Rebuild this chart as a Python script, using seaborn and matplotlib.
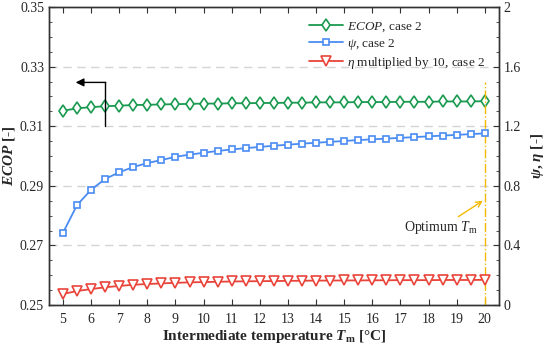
import numpy as np
import matplotlib
matplotlib.use("Agg")
import matplotlib.pyplot as plt
import seaborn as sns
from matplotlib.ticker import MultipleLocator

# data (T_m step 0.5 degC)
t_m = [5.0, 5.5, 6.0, 6.5, 7.0, 7.5, 8.0, 8.5, 9.0, 9.5, 10.0, 10.5, 11.0, 11.5, 12.0,
       12.5, 13.0, 13.5, 14.0, 14.5, 15.0, 15.5, 16.0, 16.5, 17.0, 17.5, 18.0, 18.5,
       19.0, 19.5, 20.0]
ecop = [0.3152, 0.3160, 0.3164, 0.3167, 0.3169, 0.3171, 0.3172, 0.3173, 0.3174, 0.3175,
        0.3176, 0.3176, 0.3177, 0.3177, 0.3178, 0.3178, 0.3179, 0.3179, 0.3180, 0.3180,
        0.3180, 0.3181, 0.3181, 0.3181, 0.3182, 0.3182, 0.3182, 0.3183, 0.3183, 0.3183,
        0.3184]
psi = [0.485, 0.671, 0.774, 0.846, 0.891, 0.926, 0.953, 0.973, 0.995, 1.009,
       1.022, 1.034, 1.044, 1.053, 1.061, 1.069, 1.076, 1.083, 1.089, 1.095,
       1.101, 1.107, 1.112, 1.117, 1.122, 1.127, 1.132, 1.137, 1.142, 1.147,
       1.152]
eta10 = [0.074, 0.094, 0.107, 0.119, 0.128, 0.136, 0.141, 0.145, 0.149, 0.152,
         0.154, 0.156, 0.158, 0.159, 0.160, 0.161, 0.162, 0.163, 0.164, 0.164,
         0.165, 0.165, 0.166, 0.166, 0.167, 0.167, 0.167, 0.168, 0.168, 0.168,
         0.169]

left_ticks = [0.25, 0.27, 0.29, 0.31, 0.33, 0.35]
right_ticks = [0, 0.4, 0.8, 1.2, 1.6, 2]
right_labels = ["0", "0.4", "0.8", "1.2", "1.6", "2"]
t_opt = 20.0

GREEN = "#1a9a50"
BLUE = "#4a8cf2"
RED = "#e8443a"
GOLD = "#f5b800"
SPINE = "#333333"

sns.set_style("ticks")
plt.rcParams["font.family"] = ["Liberation Serif", "DejaVu Serif"]
plt.rcParams["mathtext.fontset"] = "custom"
plt.rcParams["mathtext.rm"] = "Liberation Serif"
plt.rcParams["mathtext.it"] = "Liberation Serif:italic"
plt.rcParams["mathtext.bf"] = "Liberation Serif:bold"
plt.rcParams["mathtext.bfit"] = "Liberation Serif:italic:bold"

fig = plt.figure(figsize=(5.5, 3.51), dpi=100)
ax = fig.add_axes([0.089, 0.131, 0.818, 0.849])
ax2 = ax.twinx()

sns.lineplot(x=t_m, y=ecop, ax=ax, color=GREEN, marker="d", markersize=6.5,
             markerfacecolor="white", markeredgecolor=GREEN, markeredgewidth=1.2,
             linewidth=1.3, label="$ECOP$, case 2", legend=False)
sns.lineplot(x=t_m, y=psi, ax=ax2, color=BLUE, marker="s", markersize=4.8,
             markerfacecolor="white", markeredgecolor=BLUE, markeredgewidth=1.2,
             linewidth=1.3, label=r"$\psi$, case 2", legend=False)
sns.lineplot(x=t_m, y=eta10, ax=ax2, color=RED, marker="v", markersize=6.5,
             markerfacecolor="white", markeredgecolor=RED, markeredgewidth=1.2,
             linewidth=1.3, label=r"$\eta$ multiplied by 10, case 2", legend=False)

ax.set_xlim(4.5, 20.5)
ax.set_ylim(0.25, 0.35)
ax2.set_ylim(0, 2)
ax.set_xticks(range(5, 21))
ax.set_yticks(left_ticks)
ax.set_yticklabels([f"{v:.2f}" for v in left_ticks])
ax.yaxis.set_minor_locator(MultipleLocator(0.005))
ax2.set_yticks(right_ticks)
ax2.set_yticklabels(right_labels)
ax2.yaxis.set_minor_locator(MultipleLocator(0.1))

for yv in left_ticks[1:-1]:
    ax.axhline(yv, color="#d4d4d4", lw=1, ls=(0, (6, 4)), zorder=0)

ax.tick_params(axis="x", which="both", direction="in", top=True, length=4,
               labelsize=10, pad=6, color=SPINE)
ax.tick_params(axis="y", which="major", direction="in", length=4, labelsize=10,
               color=SPINE)
ax.tick_params(axis="y", which="minor", direction="in", length=2, color=SPINE)
ax2.tick_params(axis="y", which="major", direction="in", length=4, labelsize=10,
                color=SPINE)
ax2.tick_params(axis="y", which="minor", direction="in", length=2, color=SPINE)
for a in (ax, ax2):
    for s in a.spines.values():
        s.set_color(SPINE)
        s.set_linewidth(1.0)

ax.set_xlabel(r"Intermediate temperature $\mathbfit{T}_{\mathbf{m}}$ [°C]",
              fontsize=11, fontweight="bold", labelpad=1)
ax.set_ylabel(r"$\mathbfit{ECOP}$ [-]", fontsize=11, fontweight="bold", labelpad=2)
ax2.set_ylabel(r"$\mathbfit{\psi}$, $\mathbfit{\eta}$ [-]", fontsize=11,
               fontweight="bold", labelpad=6)

# arrow pointing to left axis
ax.plot([6.5, 6.5], [0.31, 0.3247], color="black", lw=1)
ax.annotate("", xy=(5.45, 0.3247), xytext=(6.52, 0.3247),
            arrowprops=dict(arrowstyle="-|>", color="black", lw=1,
                            mutation_scale=12, shrinkA=0, shrinkB=0))

# optimum marker
ax2.plot([t_opt, t_opt], [0, 1.5], color=GOLD, lw=1, ls="-.", zorder=1)
ax2.text(18.45, 0.52, "Optimum $T_{\\mathrm{m}}$", fontsize=10, ha="center", va="center")
ax2.annotate("", xy=(19.93, 0.70), xytext=(19.06, 0.593),
             arrowprops=dict(arrowstyle="->", color=GOLD, lw=1,
                             shrinkA=0, shrinkB=0))

h1, l1 = ax.get_legend_handles_labels()
h2, l2 = ax2.get_legend_handles_labels()
ax2.legend(h1 + h2, l1 + l2, loc="upper right", bbox_to_anchor=(0.99, 0.985),
           frameon=False, fontsize=9.5, handlelength=2.6, handletextpad=0.3,
           labelspacing=0.2, borderpad=0.2)

fig.savefig("out.png", dpi=100)
